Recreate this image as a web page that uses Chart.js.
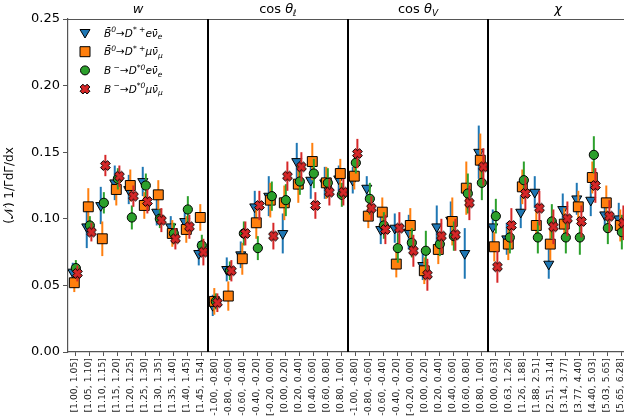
<!DOCTYPE html>
<html>
<head>
<meta charset="utf-8">
<script src="https://cdn.jsdelivr.net/npm/chart.js@4.4.1/dist/chart.umd.min.js"></script>
<style>
  html, body { margin: 0; padding: 0; overflow: hidden; background: #fff; }
  #contenedor { width: 640px; height: 416px; }
</style>
</head>
<body>
<div id="contenedor"><canvas id="grafico" width="640" height="416"></canvas></div>
<script>
// Etiquetas de los bines de cada observable
const binesW = ['[1.00, 1.05]', '[1.05, 1.10]', '[1.10, 1.15]', '[1.15, 1.20]', '[1.20, 1.25]', '[1.25, 1.30]', '[1.30, 1.35]', '[1.35, 1.40]', '[1.40, 1.45]', '[1.45, 1.54]'];
const binesCosL = ['[-1.00, -0.80]', '[-0.80, -0.60]', '[-0.60, -0.40]', '[-0.40, -0.20]', '[-0.20, 0.00]', '[0.00, 0.20]', '[0.20, 0.40]', '[0.40, 0.60]', '[0.60, 0.80]', '[0.80, 1.00]'];
const binesCosV = ['[-1.00, -0.80]', '[-0.80, -0.60]', '[-0.60, -0.40]', '[-0.40, -0.20]', '[-0.20, 0.00]', '[0.00, 0.20]', '[0.20, 0.40]', '[0.40, 0.60]', '[0.60, 0.80]', '[0.80, 1.00]'];
const binesChi = ['[0.00, 0.63]', '[0.63, 1.26]', '[1.26, 1.88]', '[1.88, 2.51]', '[2.51, 3.14]', '[3.14, 3.77]', '[3.77, 4.40]', '[4.40, 5.03]', '[5.03, 5.65]', '[5.65, 6.28]'];
const etiquetasX = [...binesW, ...binesCosL, ...binesCosV, ...binesChi];

// Valores por canal (w | cos θl | cos θV | χ)
const valB0e = [0.060, 0.094, 0.110, 0.127, 0.122, 0.128, 0.105, 0.094, 0.098, 0.074,
                0.035, 0.062, 0.073, 0.109, 0.117, 0.089, 0.143, 0.129, 0.127, 0.130,
                0.129, 0.123, 0.092, 0.093, 0.090, 0.065, 0.094, 0.099, 0.074, 0.150,
                0.094, 0.085, 0.105, 0.120, 0.066, 0.107, 0.115, 0.114, 0.103, 0.100];
const valB0mu = [0.052, 0.109, 0.085, 0.122, 0.125, 0.110, 0.118, 0.089, 0.092, 0.101,
                 0.038, 0.042, 0.070, 0.097, 0.114, 0.112, 0.126, 0.143, 0.127, 0.134,
                 0.132, 0.102, 0.105, 0.066, 0.095, 0.061, 0.077, 0.098, 0.123, 0.144,
                 0.079, 0.081, 0.124, 0.095, 0.081, 0.096, 0.109, 0.131, 0.112, 0.095];
const valBme = [0.063, 0.095, 0.112, 0.130, 0.101, 0.125, 0.100, 0.089, 0.107, 0.080,
                0.038, 0.061, 0.089, 0.078, 0.117, 0.114, 0.128, 0.134, 0.127, 0.118,
                0.142, 0.115, 0.095, 0.078, 0.082, 0.076, 0.081, 0.087, 0.119, 0.127,
                0.102, 0.086, 0.129, 0.086, 0.098, 0.086, 0.086, 0.148, 0.093, 0.090];
const valBmmu = [0.059, 0.090, 0.140, 0.132, 0.117, 0.113, 0.099, 0.085, 0.094, 0.075,
                 0.037, 0.061, 0.089, 0.110, 0.087, 0.132, 0.139, 0.110, 0.120, 0.120,
                 0.149, 0.108, 0.092, 0.093, 0.076, 0.058, 0.087, 0.088, 0.112, 0.139,
                 0.064, 0.095, 0.119, 0.108, 0.094, 0.100, 0.098, 0.125, 0.102, 0.097];

// Incertidumbres (semiancho de la barra)
const errB0e = [0.007, 0.016, 0.014, 0.013, 0.011, 0.011, 0.010, 0.008, 0.009, 0.009,
                0.008, 0.009, 0.010, 0.012, 0.015, 0.015, 0.014, 0.014, 0.012, 0.010,
                0.010, 0.009, 0.011, 0.011, 0.013, 0.011, 0.016, 0.014, 0.019, 0.020,
                0.013, 0.012, 0.012, 0.012, 0.011, 0.012, 0.012, 0.012, 0.011, 0.012];
const errB0mu = [0.007, 0.014, 0.013, 0.012, 0.012, 0.010, 0.011, 0.010, 0.010, 0.010,
                 0.010, 0.011, 0.012, 0.012, 0.013, 0.013, 0.014, 0.014, 0.012, 0.011,
                 0.010, 0.009, 0.011, 0.010, 0.013, 0.010, 0.011, 0.018, 0.020, 0.020,
                 0.011, 0.012, 0.013, 0.012, 0.012, 0.012, 0.012, 0.012, 0.013, 0.012];
const errBme = [0.006, 0.007, 0.008, 0.008, 0.009, 0.009, 0.007, 0.008, 0.010, 0.008,
                0.006, 0.007, 0.009, 0.009, 0.011, 0.012, 0.010, 0.011, 0.011, 0.009,
                0.008, 0.012, 0.010, 0.011, 0.011, 0.015, 0.009, 0.011, 0.015, 0.013,
                0.013, 0.012, 0.014, 0.012, 0.013, 0.012, 0.013, 0.014, 0.012, 0.013];
const errBmmu = [0.006, 0.007, 0.008, 0.008, 0.008, 0.009, 0.009, 0.008, 0.009, 0.010,
                 0.007, 0.008, 0.009, 0.011, 0.010, 0.011, 0.011, 0.010, 0.010, 0.010,
                 0.011, 0.009, 0.011, 0.012, 0.012, 0.012, 0.013, 0.012, 0.013, 0.014,
                 0.012, 0.013, 0.012, 0.013, 0.013, 0.013, 0.012, 0.013, 0.012, 0.013];

const ticksY = [0, 0.05, 0.10, 0.15, 0.20, 0.25];

const AZUL = '#1f77b4', NARANJA = '#ff7f0e', VERDE = '#2ca02c', ROJO = '#d62728';

// Marcador "X" relleno (estilo matplotlib)
function crearMarcadorX(tam) {
    const c = document.createElement('canvas');
    c.width = tam + 4; c.height = tam + 4;
    const g = c.getContext('2d');
    dibujarX(g, c.width / 2, c.height / 2, tam);
    return c;
}
function dibujarX(g, cx, cy, tam) {
    const a = 0.2, h = 0.5;
    const pts = [[-a, -h], [a, -h], [a, -a], [h, -a], [h, a], [a, a], [a, h], [-a, h], [-a, a], [-h, a], [-h, -a], [-a, -a]];
    const cs = Math.SQRT1_2;
    g.beginPath();
    pts.forEach(([px, py], i) => {
        const rx = (px * cs - py * cs) * tam * 1.1;
        const ry = (px * cs + py * cs) * tam * 1.1;
        if (i === 0) g.moveTo(cx + rx, cy + ry); else g.lineTo(cx + rx, cy + ry);
    });
    g.closePath();
    g.fillStyle = ROJO;
    g.fill();
    g.lineWidth = 1;
    g.strokeStyle = '#000';
    g.stroke();
}
const marcadorX = crearMarcadorX(9);

const desplaz = [-0.16, -0.05, 0.06, 0.17];

function puntos(vals, errs, k) {
    return vals.map((v, i) => ({ x: i + 0.5 + desplaz[k], y: v, e: errs[i] }));
}

// Barras de error dibujadas justo antes de los marcadores de cada serie
const barrasError = {
    id: 'barrasError',
    beforeDatasetDraw(chart, args) {
        const ds = chart.data.datasets[args.index];
        const { ctx, scales: { x, y } } = chart;
        ctx.save();
        ctx.strokeStyle = ds.colorBarra;
        ctx.lineWidth = 2;
        ds.data.forEach(p => {
            const px = x.getPixelForValue(p.x);
            ctx.beginPath();
            ctx.moveTo(px, y.getPixelForValue(p.y - p.e));
            ctx.lineTo(px, y.getPixelForValue(p.y + p.e));
            ctx.stroke();
        });
        ctx.restore();
    }
};

function dibujarMarcador(ctx, tipo, x, y) {
    ctx.save();
    ctx.lineWidth = 1;
    ctx.strokeStyle = '#000';
    ctx.beginPath();
    if (tipo === 'tri') {
        ctx.fillStyle = AZUL;
        ctx.moveTo(x - 5, y - 3.5); ctx.lineTo(x + 5, y - 3.5); ctx.lineTo(x, y + 5); ctx.closePath();
        ctx.fill(); ctx.stroke();
    } else if (tipo === 'cuad') {
        ctx.fillStyle = NARANJA;
        ctx.rect(x - 5, y - 5, 10, 10);
        ctx.fill(); ctx.stroke();
    } else if (tipo === 'circ') {
        ctx.fillStyle = VERDE;
        ctx.arc(x, y, 4.5, 0, Math.PI * 2);
        ctx.fill(); ctx.stroke();
    } else {
        dibujarX(ctx, x, y, 9);
    }
    ctx.restore();
}

// Texto con super/subíndices: [texto, 0 normal | 1 super | -1 sub]
function textoCompuesto(ctx, partes, x, y, tam, cursiva) {
    partes.forEach(([t, modo]) => {
        const s = modo === 0 ? tam : tam * 0.72;
        ctx.font = (cursiva ? 'italic ' : '') + s + 'px "DejaVu Sans"';
        const dy = modo === 1 ? -tam * 0.4 : modo === -1 ? tam * 0.27 : 0;
        ctx.fillText(t, x, y + dy);
        x += ctx.measureText(t).width;
    });
    return x;
}

const decorado = {
    id: 'decorado',
    afterDraw(chart) {
        const { ctx, chartArea: a, scales: { x } } = chart;
        ctx.save();
        // marco superior
        ctx.strokeStyle = '#555';
        ctx.lineWidth = 1.2;
        ctx.beginPath();
        ctx.moveTo(a.left, a.top + 0.5); ctx.lineTo(a.right, a.top + 0.5);
        ctx.moveTo(a.right - 0.5, a.top); ctx.lineTo(a.right - 0.5, a.bottom);
        ctx.stroke();
        // separadores entre observables
        ctx.strokeStyle = '#000';
        ctx.lineWidth = 2;
        [10, 20, 30].forEach(v => {
            const px = Math.round(x.getPixelForValue(v));
            ctx.beginPath();
            ctx.moveTo(px, a.top); ctx.lineTo(px, a.bottom);
            ctx.stroke();
        });

        // títulos de cada panel
        ctx.fillStyle = '#000';
        ctx.textBaseline = 'alphabetic';
        ctx.textAlign = 'left';
        const yt = 13;
        const titulos = [
            [['w', 0, true]],
            [['cos ', 0, false], ['θ', 0, true], ['ℓ', -1, true]],
            [['cos ', 0, false], ['θ', 0, true], ['V', -1, true]],
            [['χ', 0, true]]
        ];
        titulos.forEach((partes, k) => {
            let ancho = 0;
            partes.forEach(([t, modo, it]) => {
                const s = modo === 0 ? 13 : 9;
                ctx.font = (it ? 'italic ' : '') + s + 'px "DejaVu Sans"';
                ancho += ctx.measureText(t).width;
            });
            let px = x.getPixelForValue(k * 10 + 5) - ancho / 2;
            partes.forEach(([t, modo, it]) => {
                const s = modo === 0 ? 13 : 9;
                ctx.font = (it ? 'italic ' : '') + s + 'px "DejaVu Sans"';
                ctx.fillText(t, px, yt + (modo === -1 ? 3 : 0));
                px += ctx.measureText(t).width;
            });
        });

        // leyenda
        const filas = [
            ['tri', [['B̄', 0], ['0', 1], ['→D', 0], ['* +', 1], ['eν̄', 0], ['e', -1]]],
            ['cuad', [['B̄', 0], ['0', 1], ['→D', 0], ['* +', 1], ['μν̄', 0], ['μ', -1]]],
            ['circ', [['B', 0], [' −', 1], ['→D', 0], ['*0', 1], ['eν̄', 0], ['e', -1]]],
            ['x', [['B', 0], [' −', 1], ['→D', 0], ['*0', 1], ['μν̄', 0], ['μ', -1]]]
        ];
        filas.forEach(([tipo, partes], i) => {
            const yf = 33 + i * 18.7;
            dibujarMarcador(ctx, tipo, 85, yf);
            ctx.fillStyle = '#000';
            textoCompuesto(ctx, partes, 104, yf + 3.5, 10.5, true);
        });

        // título del eje y
        ctx.translate(13, a.top + (a.bottom - a.top) / 2);
        ctx.rotate(-Math.PI / 2);
        ctx.textAlign = 'center';
        ctx.font = '12px "DejaVu Sans"';
        ctx.fillText('(𝒩) 1/ΓdΓ/dx', 0, 0);
        ctx.restore();
    }
};

new Chart(document.getElementById('grafico'), {
    type: 'scatter',
    data: {
        datasets: [
            { data: puntos(valB0e, errB0e, 0), colorBarra: AZUL, order: 4,
              pointStyle: 'triangle', rotation: 180, radius: 5.8,
              backgroundColor: AZUL, borderColor: '#000', borderWidth: 1 },
            { data: puntos(valB0mu, errB0mu, 1), colorBarra: NARANJA, order: 3,
              pointStyle: 'rect', radius: 7,
              backgroundColor: NARANJA, borderColor: '#000', borderWidth: 1 },
            { data: puntos(valBme, errBme, 2), colorBarra: VERDE, order: 2,
              pointStyle: 'circle', radius: 4.6,
              backgroundColor: VERDE, borderColor: '#000', borderWidth: 1 },
            { data: puntos(valBmmu, errBmmu, 3), colorBarra: ROJO, order: 1,
              pointStyle: marcadorX, radius: 5,
              backgroundColor: ROJO, borderColor: '#000', borderWidth: 1 }
        ]
    },
    options: {
        responsive: false,
        animation: false,
        layout: { padding: { top: 19, right: 12, left: 0, bottom: 0 } },
        plugins: { legend: { display: false }, tooltip: { enabled: false } },
        scales: {
            x: {
                type: 'linear',
                min: 0,
                max: 40,
                afterBuildTicks(scale) {
                    scale.ticks = etiquetasX.map((_, i) => ({ value: i + 0.5 }));
                },
                afterFit(scale) { scale.height = 64; },
                ticks: {
                    autoSkip: false,
                    minRotation: 90,
                    maxRotation: 90,
                    padding: 2,
                    color: '#222',
                    font: { family: 'DejaVu Sans', size: 9.3 },
                    callback: (v, i) => etiquetasX[i]
                },
                grid: { drawOnChartArea: false, tickLength: 4, color: '#555' },
                border: { color: '#555', width: 1.2 }
            },
            y: {
                min: 0,
                max: 0.25,
                afterBuildTicks(scale) {
                    scale.ticks = ticksY.map(v => ({ value: v }));
                },
                afterFit(scale) { scale.width = 68; },
                ticks: {
                    padding: 3,
                    color: '#000',
                    font: { family: 'DejaVu Sans', size: 13 },
                    callback: v => v.toFixed(2)
                },
                grid: { drawOnChartArea: false, tickLength: 5, color: '#555' },
                border: { color: '#555', width: 1.2 }
            }
        }
    },
    plugins: [barrasError, decorado]
});
</script>
</body>
</html>
